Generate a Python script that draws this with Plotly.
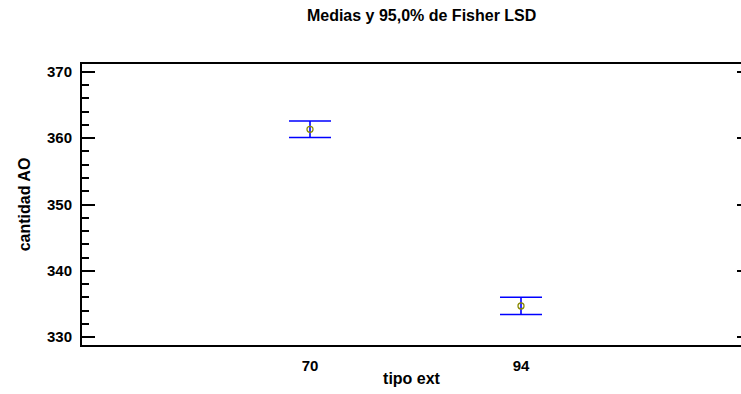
import plotly.graph_objects as go

# Data
categories = ["70", "94"]
means = [361.35, 334.7]
lsd_half = [1.25, 1.3]
y_major = [330, 340, 350, 360, 370]
y_labels = ["330", "340", "350", "360", "370"]

FONT = "Arial, 'Liberation Sans', sans-serif"
x_pos = list(range(len(categories)))

fig = go.Figure()
fig.add_trace(go.Scatter(
    x=x_pos, y=means, mode="markers",
    marker=dict(symbol="circle-open", size=6, color="#8a8a00", line=dict(width=1.3)),
    error_y=dict(type="data", array=lsd_half, arrayminus=lsd_half, visible=True,
                 color="#0000ff", thickness=1.6, width=21),
    showlegend=False, hoverinfo="skip",
))
# invisible trace to anchor right-side tick axis
fig.add_trace(go.Scatter(x=x_pos, y=means, yaxis="y2", mode="markers",
                         marker=dict(opacity=0), showlegend=False, hoverinfo="skip"))

yr = [328.8, 371.2]
fig.update_layout(
    width=741, height=394,
    margin=dict(l=82, r=0, t=64, b=49),
    paper_bgcolor="white", plot_bgcolor="white",
    font=dict(family=FONT, color="black", size=15),
    title=dict(text="Medias y 95,0% de Fisher LSD", xref="container", x=0.569, xanchor="center",
               yref="container", y=1 - 15/394, yanchor="middle",
               font=dict(family=FONT, size=16, weight="bold", color="black")),
    xaxis=dict(
        tickmode="array", tickvals=x_pos, ticktext=categories,
        range=[-1.0806, 2.0427], showgrid=False, zeroline=False,
        showline=True, linecolor="black", linewidth=2, mirror=True,
        ticks="", ticklabelstandoff=6,
        tickfont=dict(family=FONT, size=15, weight="bold"),
        title=dict(text="tipo ext", standoff=0, font=dict(family=FONT, size=16, weight="bold")),
    ),
    yaxis=dict(
        range=yr, tickmode="array", tickvals=y_major, ticktext=y_labels,
        showgrid=False, zeroline=False,
        showline=True, linecolor="black", linewidth=2, mirror=False,
        ticks="inside", ticklen=13, tickwidth=2, tickcolor="black",
        minor=dict(dtick=2, tick0=330, ticks="inside", ticklen=7, tickwidth=1.5, tickcolor="black"),
        ticklabelstandoff=5,
        tickfont=dict(family=FONT, size=15, weight="bold"),
        title=dict(text="cantidad AO", standoff=12, font=dict(family=FONT, size=16, weight="bold")),
    ),
    yaxis2=dict(
        range=yr, overlaying="y", side="right", anchor="x",
        tickmode="array", tickvals=y_major, showticklabels=False,
        showgrid=False, zeroline=False, showline=False,
        ticks="inside", ticklen=4, tickwidth=2, tickcolor="black",
    ),
)

fig.write_html("out.html", config={"displayModeBar": False},
               post_script="document.body.style.margin='0';")
